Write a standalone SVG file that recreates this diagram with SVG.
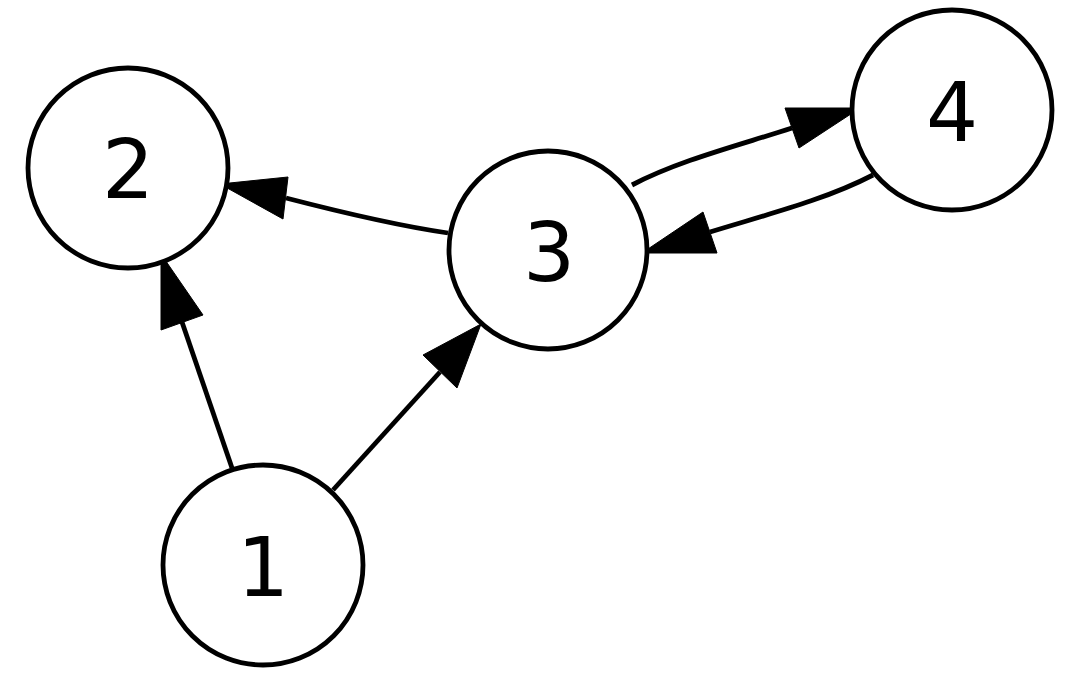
<svg xmlns="http://www.w3.org/2000/svg" width="1080" height="675" viewBox="0 0 1080 675">
<style>
.node circle{fill:#fff;stroke:#000;stroke-width:4.8}
.node text{font-family:"DejaVu Sans",sans-serif;font-size:82px;text-anchor:middle;fill:#000}
.edges path.l{fill:none;stroke:#000;stroke-width:4.8}
.edges polygon{fill:#000;stroke:#000;stroke-width:1}
</style>
<rect width="1080" height="675" fill="#fff"/>
<g class="edges" id="edges">
<g id="e1-2"><path class="l" d="M232,468 L182,322"/><polygon points="161,254 203,315 161,330"/></g>
<g id="e1-3"><path class="l" d="M333,490 L440,372"/><polygon points="481,324 457,388 423,355"/></g>
<g id="e3-2"><path class="l" d="M448,233 C400,226 340,212 286,198"/><polygon points="220,184 288,177 283,219"/></g>
<g id="e3-4"><path class="l" d="M632,185 C680,160 740,145 792,128"/><polygon points="860,108 799,148 785,108"/></g>
<g id="e4-3"><path class="l" d="M873,175 C825,200 765,215 710,232"/><polygon points="642,253 703,212 717,253"/></g>
</g>
<g class="node" id="n2"><circle cx="128" cy="168" r="100"/><text x="128" y="198">2</text></g>
<g class="node" id="n3"><circle cx="548" cy="250" r="99"/><text x="549" y="281">3</text></g>
<g class="node" id="n4"><circle cx="952" cy="110" r="100"/><text x="952" y="141">4</text></g>
<g class="node" id="n1"><circle cx="263" cy="565" r="100"/><text x="263" y="596">1</text></g>
</svg>
